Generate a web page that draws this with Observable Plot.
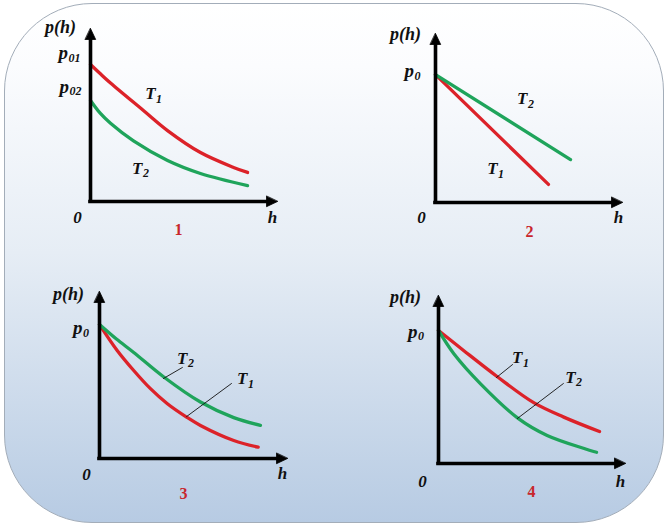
<!DOCTYPE html>
<html><head><meta charset="utf-8">
<script src="https://cdn.jsdelivr.net/npm/d3@7"></script>
<script src="https://cdn.jsdelivr.net/npm/@observablehq/plot@0.6"></script>
<style>
html,body{margin:0;padding:0;background:#fff;}
#frame{position:relative;width:667px;height:527px;overflow:hidden;background:#fff;}
#card{position:absolute;left:4px;top:3px;width:660px;height:520px;box-sizing:border-box;border:1px solid #a3adb9;border-radius:88px;
background:linear-gradient(to bottom,#ffffff 0%,#fbfcfe 12%,#e6edf5 48%,#b7cbe3 100%);}
</style></head>
<body><div id="frame"><div id="card"></div></div>
<script>
// ---- data (h, p), units: axis length = 10 ----
const panel1T1 = [[0,7.92],[0.53,7.38],[1.07,6.85],[2.83,5.26],[4.12,4.10],[5.88,2.83],[7.65,1.97],[8.40,1.68]];
const panel1T2 = [[0,5.84],[0.53,5.09],[1.07,4.52],[2.30,3.50],[4.12,2.37],[5.88,1.62],[8.40,0.92]];
const panel2T1 = [[0,7.57],[6.04,1.07]];
const panel2T2 = [[0,7.57],[7.22,2.54]];
const panel3T1 = [[0,8.02],[0.94,6.47],[1.82,5.27],[2.71,4.18],[3.61,3.28],[4.63,2.48],[5.37,1.98],[7.14,1.08],[8.44,0.68]];
const panel3T2 = [[0,8.02],[0.90,7.15],[1.82,6.35],[3.42,4.88],[5.37,3.38],[7.14,2.45],[8.56,1.98]];
const panel4T1 = [[0,7.92],[1.34,6.73],[3.13,5.18],[5.09,3.62],[6.70,2.76],[8.61,1.90]];
const panel4T2 = [[0,7.92],[0.82,6.53],[2.25,4.74],[4.24,2.70],[5.81,1.67],[8.45,0.67]];

// leader lines for curve labels
const panel3Leaders = [[[4.41,5.45],[3.40,4.79]], [[7.02,4.49],[4.63,2.51]]];
const panel4Leaders = [[[3.96,5.89],[3.10,5.12]], [[6.68,4.76],[4.22,2.68]]];

// text labels
const panel1Labels = [
  {h:-1.60, p:10.05, text:"p(h)", kind:"axis"},
  {h:-1.20, p:8.60, text:"p", sub:"01", kind:"tick"},
  {h:-1.15, p:6.65, text:"p", sub:"02", kind:"tick"},
  {h:3.48, p:6.23, text:"T", sub:"1", kind:"curve"},
  {h:2.78, p:1.90, text:"T", sub:"2", kind:"curve"},
  {h:-0.70, p:-0.92, text:"0", kind:"end"},
  {h:9.73, p:-0.92, text:"h", kind:"end"},
  {h:4.71, p:-1.63, text:"1", kind:"num"}
];
const panel2Labels = [
  {h:-1.60, p:9.93, text:"p(h)", kind:"axis"},
  {h:-1.15, p:7.80, text:"p", sub:"0", kind:"tick"},
  {h:4.92, p:6.14, text:"T", sub:"2", kind:"curve"},
  {h:3.32, p:2.00, text:"T", sub:"1", kind:"curve"},
  {h:-0.75, p:-0.88, text:"0", kind:"end"},
  {h:9.79, p:-0.88, text:"h", kind:"end"},
  {h:5.03, p:-1.73, text:"2", kind:"num"}
];
const panel3Labels = [
  {h:-1.65, p:9.81, text:"p(h)", kind:"axis"},
  {h:-0.90, p:7.83, text:"p", sub:"0", kind:"tick"},
  {h:4.68, p:5.98, text:"T", sub:"2", kind:"curve"},
  {h:7.87, p:4.78, text:"T", sub:"1", kind:"curve"},
  {h:-0.69, p:-0.95, text:"0", kind:"end"},
  {h:9.73, p:-0.89, text:"h", kind:"end"},
  {h:4.47, p:-2.11, text:"3", kind:"num"}
];
const panel4Labels = [
  {h:-1.76, p:9.87, text:"p(h)", kind:"axis"},
  {h:-1.12, p:7.85, text:"p", sub:"0", kind:"tick"},
  {h:4.49, p:6.30, text:"T", sub:"1", kind:"curve"},
  {h:7.33, p:5.11, text:"T", sub:"2", kind:"curve"},
  {h:-0.86, p:-1.06, text:"0", kind:"end"},
  {h:9.73, p:-1.06, text:"h", kind:"end"},
  {h:4.97, p:-1.68, text:"4", kind:"num"}
];

// ---- layout (pixel frame of each panel: origin and arrow tips) ----
const layout = [
  {ox:90,  oy:201, xTip:277, yTip:28,  t1:panel1T1, t2:panel1T2, curve:"catmull-rom", leaders:[], labels:panel1Labels},
  {ox:435, oy:202, xTip:622, yTip:33,  t1:panel2T1, t2:panel2T2, curve:"linear", leaders:[], labels:panel2Labels},
  {ox:99,  oy:458, xTip:287, yTip:291, t1:panel3T1, t2:panel3T2, curve:"catmull-rom", leaders:panel3Leaders, labels:panel3Labels},
  {ox:438, oy:463, xTip:625, yTip:295, t1:panel4T1, t2:panel4T2, curve:"catmull-rom", leaders:panel4Leaders, labels:panel4Labels}
];

const RED = "#dc2229", GREEN = "#1fa45b", NUMRED = "#c8262c";
const serif = "'Liberation Serif','Times New Roman',serif";
const arrowHead = {draw(ctx, l) { ctx.moveTo(0, -l); ctx.lineTo(5.2, 0); ctx.lineTo(-5.2, 0); ctx.closePath(); }};
const txt = {x:"h", y:"p", fontFamily:serif, fontWeight:"bold", fill:"#111"};

const frame = document.getElementById("frame");
for (const g of layout) {
  const mL = 70, mR = 15, mT = 20, mB = 45;
  const width = mL + (g.xTip - g.ox) + mR;
  const height = mT + (g.oy - g.yTip) + mB;
  const ticks = g.labels.filter(d => d.kind === "tick");
  const curves = g.labels.filter(d => d.kind === "curve");
  const svg = Plot.plot({
    width, height, marginLeft:mL, marginRight:mR, marginTop:mT, marginBottom:mB,
    x:{domain:[0,10], axis:null}, y:{domain:[0,10], axis:null},
    style:{background:"transparent", overflow:"visible", maxWidth:"none"},
    marks:[
      Plot.line(g.t1, {x:d=>d[0], y:d=>d[1], stroke:RED, strokeWidth:3.3, curve:g.curve}),
      Plot.line(g.t2, {x:d=>d[0], y:d=>d[1], stroke:GREEN, strokeWidth:3.3, curve:g.curve}),
      ...g.leaders.map(L => Plot.line(L, {x:d=>d[0], y:d=>d[1], stroke:"#111", strokeWidth:0.9})),
      Plot.ruleY([0], {x1:0, x2:9.6, stroke:"#000", strokeWidth:3.6, strokeLinecap:"square"}),
      Plot.ruleX([0], {y1:0, y2:9.5, stroke:"#000", strokeWidth:3.6, strokeLinecap:"square"}),
      Plot.vector([{h:10, p:0, a:90}, {h:0, p:10, a:0}], {x:"h", y:"p", rotate:"a", length:11, anchor:"end", shape:arrowHead, fill:"#000", stroke:"#000", strokeWidth:0.8}),
      Plot.text(g.labels.filter(d=>d.kind==="axis"), {...txt, text:"text", fontSize:18, fontStyle:"italic", textAnchor:"middle"}),
      Plot.text(ticks, {...txt, text:"text", fontSize:19, fontStyle:"italic", textAnchor:"end"}),
      Plot.text(ticks, {...txt, text:"sub", fontSize:12, fontStyle:"italic", textAnchor:"start", dx:0.5, dy:5}),
      Plot.text(curves, {...txt, text:"text", fontSize:17, fontStyle:"italic", textAnchor:"end"}),
      Plot.text(curves, {...txt, text:"sub", fontSize:12, fontStyle:"italic", textAnchor:"start", dx:0.5, dy:5}),
      Plot.text(g.labels.filter(d=>d.kind==="end"), {...txt, text:"text", fontSize:17, fontStyle:"italic", textAnchor:"middle"}),
      Plot.text(g.labels.filter(d=>d.kind==="num"), {...txt, text:"text", fontSize:16, fill:NUMRED, textAnchor:"middle"})
    ]
  });
  svg.style.position = "absolute";
  svg.style.left = (g.ox - mL) + "px";
  svg.style.top = (g.yTip - mT) + "px";
  frame.appendChild(svg);
}
</script>
</body></html>
